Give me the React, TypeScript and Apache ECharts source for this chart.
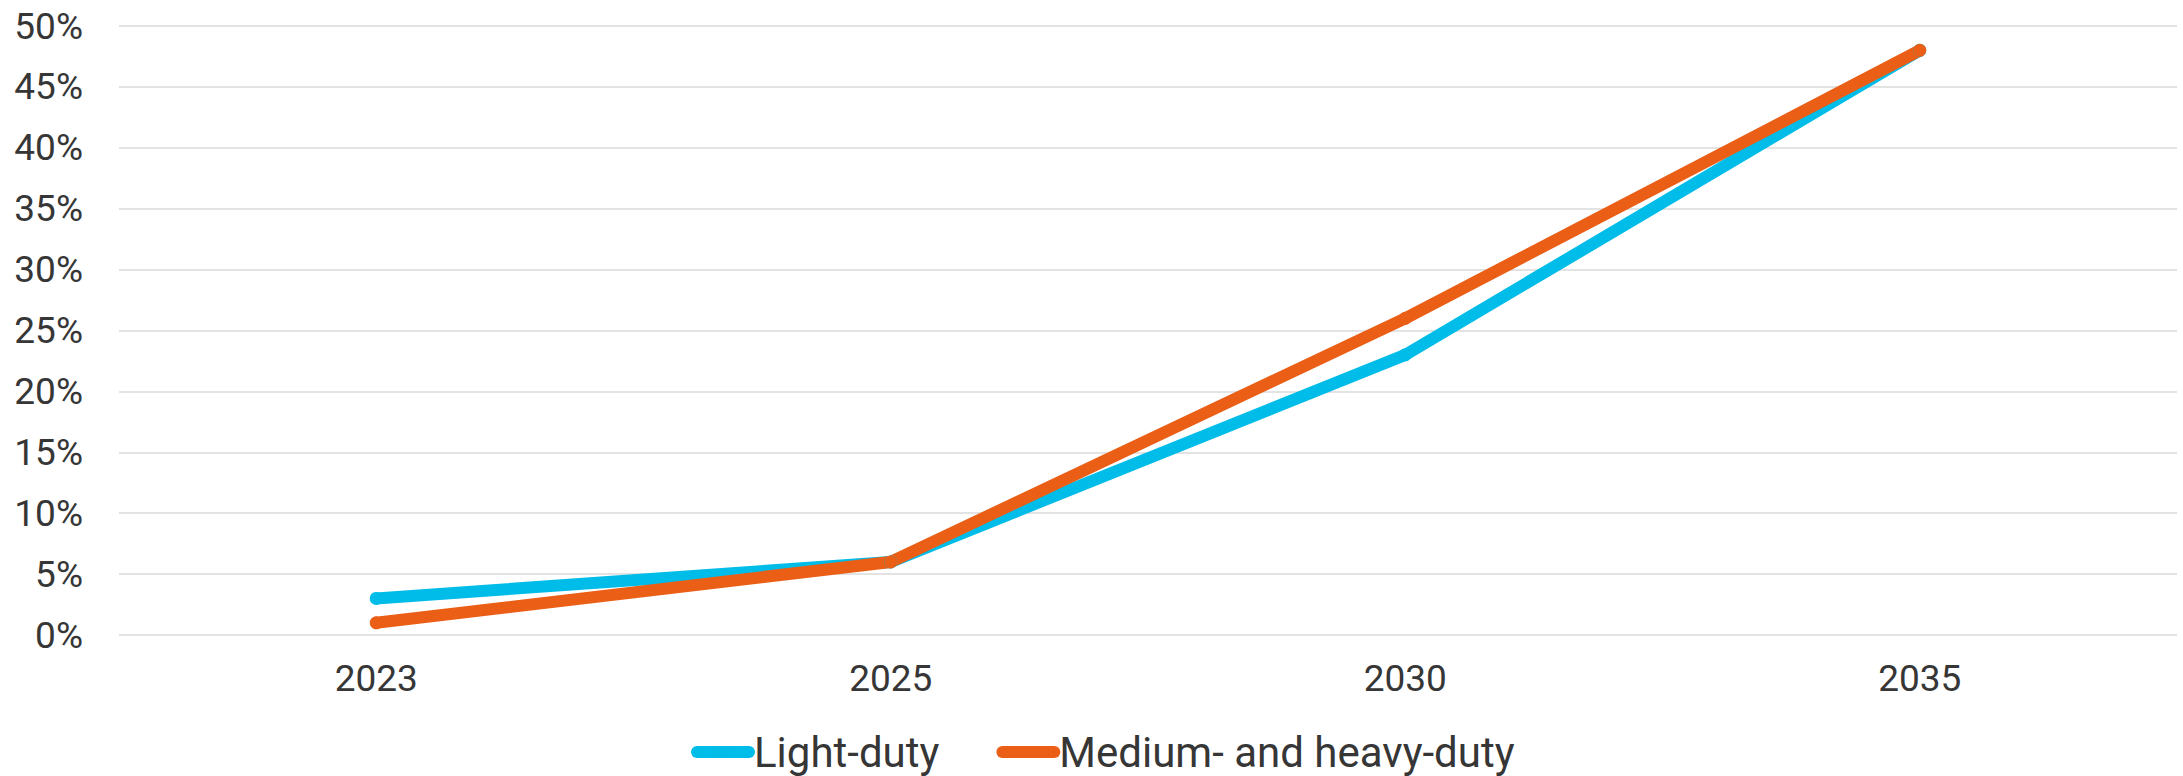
import React, { useEffect, useRef } from "react";
import * as echarts from "echarts";

// Share of new vehicle sales by year
const years = ["2023", "2025", "2030", "2035"];
const lightDuty = [3, 6, 23, 48];
const mediumHeavyDuty = [1, 6, 26, 48];
const seriesNames = ["Light-duty", "Medium- and heavy-duty"];
const seriesColors = ["#00BCE8", "#EA5E16"];

const FONT = "Roboto, 'Noto Sans', sans-serif";
const TEXT_COLOR = "#363636";

export default function App() {
  const ref = useRef<HTMLDivElement>(null);

  useEffect(() => {
    document.body.style.margin = "0";
    if (!ref.current) return;
    const chart = echarts.init(ref.current, undefined, { renderer: "svg" });

    const makeSeries = (name: string, data: number[], color: string) => ({
      name,
      type: "line",
      data,
      symbol: "circle",
      symbolSize: 13,
      showSymbol: true,
      lineStyle: { width: 12, color, cap: "round", join: "round" },
      itemStyle: { color, borderWidth: 0 },
      emphasis: { disabled: true },
    });

    chart.setOption({
      animation: false,
      grid: { left: 119, right: 6, top: 26, bottom: 141, containLabel: false },
      legend: {
        left: 686,
        top: 726,
        itemWidth: 52,
        itemHeight: 13,
        itemGap: 57,
        data: seriesNames,
        lineStyle: { width: 12, cap: "round" },
        textStyle: {
          fontFamily: FONT,
          fontSize: 42,
          color: TEXT_COLOR,
        },
      },
      xAxis: {
        type: "category",
        data: years,
        boundaryGap: true,
        axisLine: { show: false },
        axisTick: { show: false },
        axisLabel: {
          margin: 25,
          fontFamily: FONT,
          fontSize: 37,
          color: TEXT_COLOR,
        },
      },
      yAxis: {
        type: "value",
        min: 0,
        max: 50,
        interval: 5,
        axisLine: { show: false },
        axisTick: { show: false },
        splitLine: { lineStyle: { color: "#E3E3E3", width: 2 } },
        axisLabel: {
          margin: 36,
          fontFamily: FONT,
          fontSize: 37,
          color: TEXT_COLOR,
          formatter: "{value}%",
        },
      },
      series: [
        makeSeries(seriesNames[0], lightDuty, seriesColors[0]),
        makeSeries(seriesNames[1], mediumHeavyDuty, seriesColors[1]),
      ],
    });

    return () => chart.dispose();
  }, []);

  return <div ref={ref} style={{ width: 2183, height: 776 }} />;
}
